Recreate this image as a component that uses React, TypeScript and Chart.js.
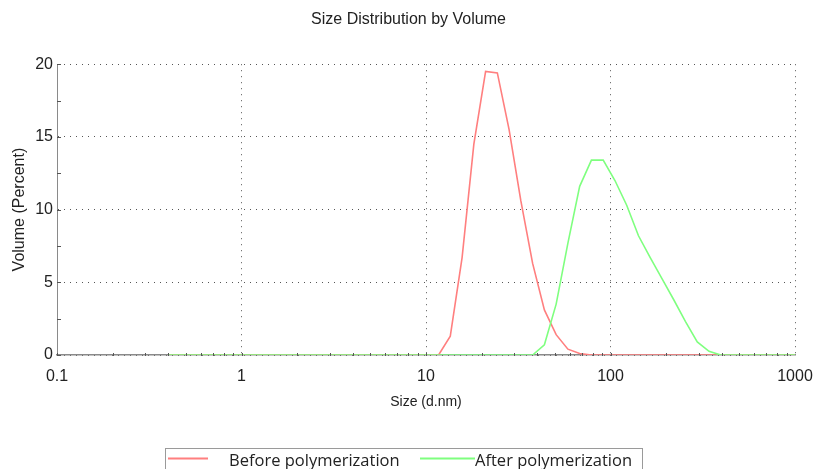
import React, { useEffect, useRef } from "react";
import { Chart, registerables } from "chart.js";

Chart.register(...registerables);

const sizes = [
  0.4, 0.4632, 0.5365, 0.6213, 0.7195, 0.8332, 0.9649, 1.117, 1.294, 1.499,
  1.736, 2.01, 2.328, 2.696, 3.122, 3.615, 4.187, 4.849, 5.615, 6.503,
  7.531, 8.721, 10.1, 11.7, 13.54, 15.69, 18.17, 21.04, 24.36, 28.21,
  32.67, 37.84, 43.82, 50.75, 58.77, 68.06, 78.82, 91.28, 105.7, 122.4,
  141.8, 164.2, 190.1, 220.2, 255, 295.3, 342, 396.1, 458.7, 531.2,
  615.1, 712.4, 825, 955.4, 1106,
];

const beforeValues = [
  0, 0, 0, 0, 0, 0, 0, 0, 0, 0,
  0, 0, 0, 0, 0, 0, 0, 0, 0, 0,
  0, 0, 0, 0, 1.3, 6.7, 14.5, 19.5, 19.4, 15.5,
  10.6, 6.3, 3.1, 1.4, 0.4, 0.1, 0, 0, 0, 0,
  0, 0, 0, 0, 0, 0, 0, 0, 0, 0,
  0, 0, 0, 0, 0,
];

const afterValues = [
  0, 0, 0, 0, 0, 0, 0, 0, 0, 0,
  0, 0, 0, 0, 0, 0, 0, 0, 0, 0,
  0, 0, 0, 0, 0, 0, 0, 0, 0, 0,
  0, 0, 0.7, 3.5, 7.7, 11.6, 13.4, 13.4, 12.0, 10.3,
  8.2, 6.7, 5.25, 3.8, 2.3, 0.9, 0.25, 0, 0, 0,
  0, 0, 0, 0, 0,
];

const seriesLabels = ["Before polymerization", "After polymerization"];
const xTickValues = [0.1, 1, 10, 100, 1000];
const xMinorMultipliers = [1, 2, 3, 4, 5, 6, 7, 8, 9];
const yMinorValues = [0, 2.5, 5, 7.5, 10, 12.5, 15, 17.5, 20];

const RED = "#ff7f7f";
const GREEN = "#7fff7f";

const minorTicksPlugin = {
  id: "minorTicks",
  afterDraw(chart: any) {
    const { ctx, chartArea, scales } = chart;
    const x = scales.x;
    const y = scales.y;
    ctx.save();
    ctx.strokeStyle = "#555";
    ctx.lineWidth = 1;
    ctx.beginPath();
    for (let d = 0; d < xTickValues.length - 1; d++) {
      for (const m of xMinorMultipliers) {
        const v = xTickValues[d] * m;
        const px = Math.round(x.getPixelForValue(v)) + 0.5;
        ctx.moveTo(px, chartArea.bottom - 2);
        ctx.lineTo(px, chartArea.bottom + 1);
      }
    }
    for (const v of yMinorValues) {
      const py = Math.round(y.getPixelForValue(v)) + 0.5;
      ctx.moveTo(chartArea.left, py);
      ctx.lineTo(chartArea.left + 4, py);
    }
    ctx.stroke();
    ctx.restore();
  },
};

const boxLegendPlugin = {
  id: "boxLegend",
  afterDraw(chart: any) {
    const { ctx } = chart;
    const ds = chart.data.datasets;
    ctx.save();
    ctx.strokeStyle = "#9a9a9a";
    ctx.lineWidth = 1;
    ctx.strokeRect(165.5, 448.5, 477, 30);
    ctx.font = "16.5px 'Open Sans'";
    ctx.textBaseline = "alphabetic";
    ctx.fillStyle = "#222";
    const items = [
      { x1: 168, x2: 208, tx: 229 },
      { x1: 420, x2: 475, tx: 475 },
    ];
    items.forEach((it, i) => {
      ctx.strokeStyle = ds[i].borderColor;
      ctx.lineWidth = 2;
      ctx.beginPath();
      ctx.moveTo(it.x1, 458.5);
      ctx.lineTo(it.x2, 458.5);
      ctx.stroke();
      ctx.fillText(ds[i].label, it.tx, 466);
    });
    ctx.restore();
  },
};

export default function App() {
  const canvasRef = useRef<HTMLCanvasElement | null>(null);

  useEffect(() => {
    document.body.style.margin = "0";
    if (!canvasRef.current) return;
    Chart.defaults.font.family = "'Liberation Sans', Arial, sans-serif";
    Chart.defaults.color = "#222";

    const chart = new Chart(canvasRef.current, {
      type: "line",
      data: {
        datasets: [
          {
            label: seriesLabels[0],
            data: sizes.map((s, i) => ({ x: s, y: beforeValues[i] })),
            borderColor: RED,
            backgroundColor: RED,
            borderWidth: 1.6,
            pointRadius: 0,
            tension: 0,
            order: 1,
          },
          {
            label: seriesLabels[1],
            data: sizes.map((s, i) => ({ x: s, y: afterValues[i] })),
            borderColor: GREEN,
            backgroundColor: GREEN,
            borderWidth: 1.6,
            pointRadius: 0,
            tension: 0,
            order: 0,
          },
        ],
      },
      options: {
        animation: false,
        responsive: false,
        layout: { padding: { top: 0, right: 20, bottom: 57, left: 22 } },
        plugins: {
          legend: { display: false },
          tooltip: { enabled: false },
          title: {
            display: true,
            text: "Size Distribution by Volume",
            font: { size: 16, weight: "normal" },
            color: "#222",
            padding: { top: 10, bottom: 35 },
          },
        },
        scales: {
          x: {
            type: "logarithmic",
            min: 0.1,
            max: 1000,
            afterBuildTicks: (scale: any) => {
              scale.ticks = xTickValues.map((v) => ({ value: v }));
            },
            afterFit: (scale: any) => {
              scale.height = 57;
              scale.paddingLeft = 0;
              scale.paddingRight = 0;
            },
            ticks: {
              autoSkip: false,
              maxRotation: 0,
              padding: 12,
              font: { size: 16 },
              color: "#222",
              callback: (v: any) => String(v),
            },
            grid: {
              display: true,
              drawTicks: false,
              color: "#555",
              lineWidth: 1,
            },
            border: { display: true, color: "#8a8a8a", width: 1.5, dash: [1, 5] },
            title: {
              display: true,
              text: "Size (d.nm)",
              font: { size: 14 },
              color: "#222",
              padding: { top: 0, bottom: 1 },
            },
          },
          y: {
            min: 0,
            max: 20,
            afterFit: (scale: any) => {
              scale.width = 35;
            },
            ticks: {
              stepSize: 5,
              padding: 4,
              font: { size: 16 },
              color: "#222",
            },
            grid: {
              display: true,
              drawTicks: false,
              color: "#555",
              lineWidth: 1,
            },
            border: { display: true, color: "#8a8a8a", width: 1, dash: [1, 5] },
            title: {
              display: true,
              text: "Volume (Percent)",
              font: { size: 16 },
              color: "#222",
              padding: { top: -11.6, bottom: 0 },
            },
          },
        },
      },
      plugins: [minorTicksPlugin, boxLegendPlugin],
    } as any);

    return () => chart.destroy();
  }, []);

  return (
    <div style={{ width: 815, height: 469 }}>
      <canvas ref={canvasRef} width={815} height={469} />
    </div>
  );
}
